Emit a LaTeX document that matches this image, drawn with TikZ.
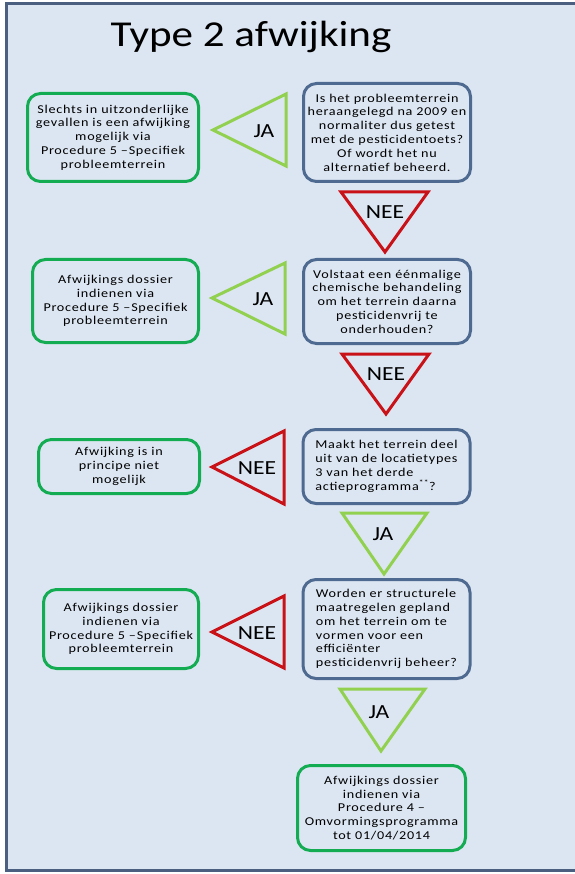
\documentclass[tikz,border=0pt]{standalone}
\usepackage{fontspec}
\setmainfont{Carlito}[FakeStretch=1.18]
\definecolor{achtergrond}{RGB}{220,230,242}
\definecolor{kader}{RGB}{75,95,128}
\definecolor{vraagblauw}{RGB}{79,106,144}
\definecolor{antwoordgroen}{RGB}{20,172,82}
\definecolor{jagroen}{RGB}{146,208,80}
\definecolor{neerood}{RGB}{200,18,24}
\tikzset{
  vak/.style={line width=3pt, rounded corners=13pt, fill=achtergrond, inner sep=0pt,
    font=\fontsize{12}{13.8}\selectfont\addfontfeature{LetterSpace=6}},
  vraag/.style={vak, draw=vraagblauw, minimum width=167pt},
  antwoord/.style={vak, draw=antwoordgroen},
  jahoek/.style={draw=jagroen, line width=3pt},
  neehoek/.style={draw=neerood, line width=3pt},
  keuze/.style={font=\fontsize{20}{20}\selectfont, inner sep=0pt},
  titel/.style={font=\fontsize{36.5}{38}\selectfont, inner sep=0pt}
}
\begin{document}
\begin{tikzpicture}[x=1pt, y=-1pt]
\useasboundingbox (0,0) rectangle (574,874);
\fill[achtergrond] (6,4) rectangle (590,870);
\draw[kader, line width=3pt] (590,4) -- (6,4) -- (6,870) -- (590,870);

\node[titel, anchor=base] (titel) at (251,46.5) {Type 2 afwijking};

\node[vraag, minimum height=98pt, align=center] (v1) at (387,132.5)
  {Is het probleemterrein\\ heraangelegd na 2009 en\\ normaliter dus getest\\ met de pesticidentoets?\\ Of wordt het nu\\ alternatief beheerd.};
\node[antwoord, minimum width=171pt, minimum height=88pt, align=center] (a1) at (113,137.5)
  {Slechts in uitzonderlijke\\ gevallen is een afwijking\\ mogelijk via\\ Procedure 5 –Specifiek\\ probleemterrein};
\draw[jahoek] (213,130) -- (286,94) -- (286,166) -- cycle;
\node[keuze] (ja1) at (264,131) {JA};

\draw[neehoek] (341,192) -- (428,192) -- (385,252) -- cycle;
\node[keuze] (nee1) at (385,212) {NEE};

\node[vraag, minimum height=84pt, align=center] (v2) at (387,301.5)
  {Volstaat een éénmalige\\ chemische behandeling\\ om het terrein daarna\\ pesticidenvrij te\\ onderhouden?};
\node[antwoord, minimum width=166pt, minimum height=83pt, align=center] (a2) at (115.5,301)
  {Afwijkings dossier\\ indienen via\\ Procedure 5 –Specifiek\\ probleemterrein};
\draw[jahoek] (212,298) -- (285,263) -- (285,334) -- cycle;
\node[keuze] (ja2) at (263,299) {JA};

\draw[neehoek] (342,354) -- (429,354) -- (386,414) -- cycle;
\node[keuze] (nee2) at (386,374) {NEE};

\node[vraag, minimum height=74pt, align=left] (v3) at (386.5,466.5)
  {Maakt het terrein deel\\ uit van de locatietypes\\ 3 van het derde\\ actieprogramma\textsuperscript{**}?};
\node[antwoord, minimum width=161pt, minimum height=54pt, align=center] (a3) at (119,466.5)
  {Afwijking is in\\ principe niet\\ mogelijk};
\draw[neehoek] (212,467) -- (284,431) -- (284,504) -- cycle;
\node[keuze] (nee3) at (257,468) {NEE};

\draw[jahoek] (342,513) -- (427,513) -- (384,574) -- cycle;
\node[keuze] (ja3) at (383,534) {JA};

\node[vraag, minimum height=99pt, align=left] (v4) at (386.5,629)
  {Worden er structurele\\ maatregelen gepland\\ om het terrein om te\\ vormen voor een\\ efficiënter\\ pesticidenvrij beheer?};
\node[antwoord, minimum width=155pt, minimum height=79pt, align=center] (a4) at (121,629)
  {Afwijkings dossier\\ indienen via\\ Procedure 5 –Specifiek\\ probleemterrein};
\draw[neehoek] (212,632) -- (284,596) -- (284,668) -- cycle;
\node[keuze] (nee4) at (257,633) {NEE};

\draw[jahoek] (340,689) -- (425,689) -- (381,751) -- cycle;
\node[keuze] (ja4) at (379,712) {JA};

\node[antwoord, minimum width=168pt, minimum height=85pt, align=center] (a5) at (381.5,808)
  {Afwijkings dossier\\ indienen via\\ Procedure 4 –\\ Omvormingsprogramma\\ tot 01/04/2014};
\end{tikzpicture}
\end{document}
